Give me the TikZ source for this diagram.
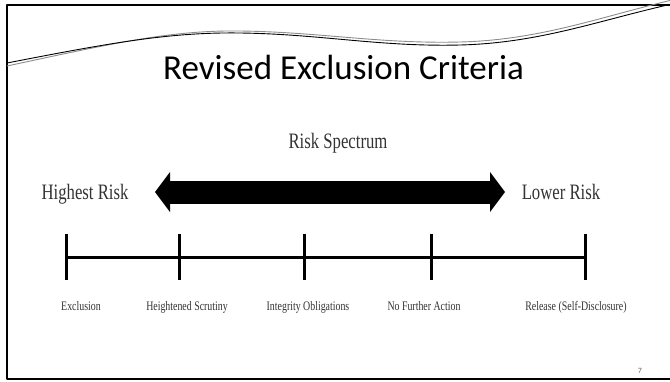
\documentclass[tikz,border=0pt]{standalone}
\usepackage{fontspec}
\setmainfont{Liberation Serif}
\newfontfamily\titlefont{Carlito}
\newfontfamily\narrowfont[FakeStretch=0.76]{Liberation Serif}
\usetikzlibrary{arrows.meta}
\tikzset{
	bigtext/.style={font=\narrowfont\fontsize{22}{26}\selectfont,text=black!80,inner sep=0pt},
	smalltext/.style={font=\narrowfont\fontsize{13}{15}\selectfont,text=black!80,inner sep=0pt},
	tickline/.style={line width=3pt},
}
\begin{document}
\begin{tikzpicture}[x=1pt,y=-1pt,line join=round]
	\useasboundingbox (0,0) rectangle (670,381);
	\clip (0,0) rectangle (670,381);
	%==Khung và đường sóng
	\draw[line width=2.5pt] (672,5)--(7,5)--(7,379)--(672,379);
	\draw[black!45,line width=0.9pt] (7,66) .. controls (110,44) and (170,30) .. (240,31) .. controls (320,32) and (380,44) .. (460,42) .. controls (540,40) and (600,17) .. (672,0);
	\draw[line width=0.9pt] (7,63) .. controls (110,43) and (170,32) .. (240,33) .. controls (320,34) and (380,47) .. (460,45) .. controls (540,43) and (600,20) .. (672,4);
	%==Tiêu đề
	\node[anchor=base west,font=\titlefont\fontsize{35}{42}\selectfont,inner sep=0pt] (title) at (163,79) {Revised Exclusion Criteria};
	\node[bigtext,anchor=base] (spec) at (338,148) {Risk Spectrum};
	%==Mũi tên hai đầu
	\node[bigtext,anchor=base] (high) at (85,199) {Highest Risk};
	\node[bigtext,anchor=base] (low) at (561,199) {Lower Risk};
	\coordinate (tipL) at (155,192);
	\coordinate (tipR) at (505,192);
	\draw[line width=23pt,{Triangle[length=15pt,width=40pt,line width=0pt]}-{Triangle[length=15pt,width=40pt,line width=0pt]}] (tipL)--(tipR);
	%==Trục
	\foreach \x/\n in {66/a,179/b,304/c,431/d,585/e}{
		\coordinate (t\n) at (\x,257);
		\draw[tickline] (\x,234)--(\x,280);
	}
	\draw[tickline] (ta)--(te);
	\node[smalltext,anchor=base] (la) at (81,310) {Exclusion};
	\node[smalltext,anchor=base] (lb) at (187,310) {Heightened Scrutiny};
	\node[smalltext,anchor=base] (lc) at (308,310) {Integrity Obligations};
	\node[smalltext,anchor=base] (ld) at (424,310) {No Further Action};
	\node[smalltext,anchor=base] (le) at (576,310) {Release (Self-Disclosure)};
	\node[font=\titlefont\fontsize{8}{9}\selectfont,text=black!60,inner sep=0pt] (page) at (640,371) {7};
\end{tikzpicture}
\end{document}
